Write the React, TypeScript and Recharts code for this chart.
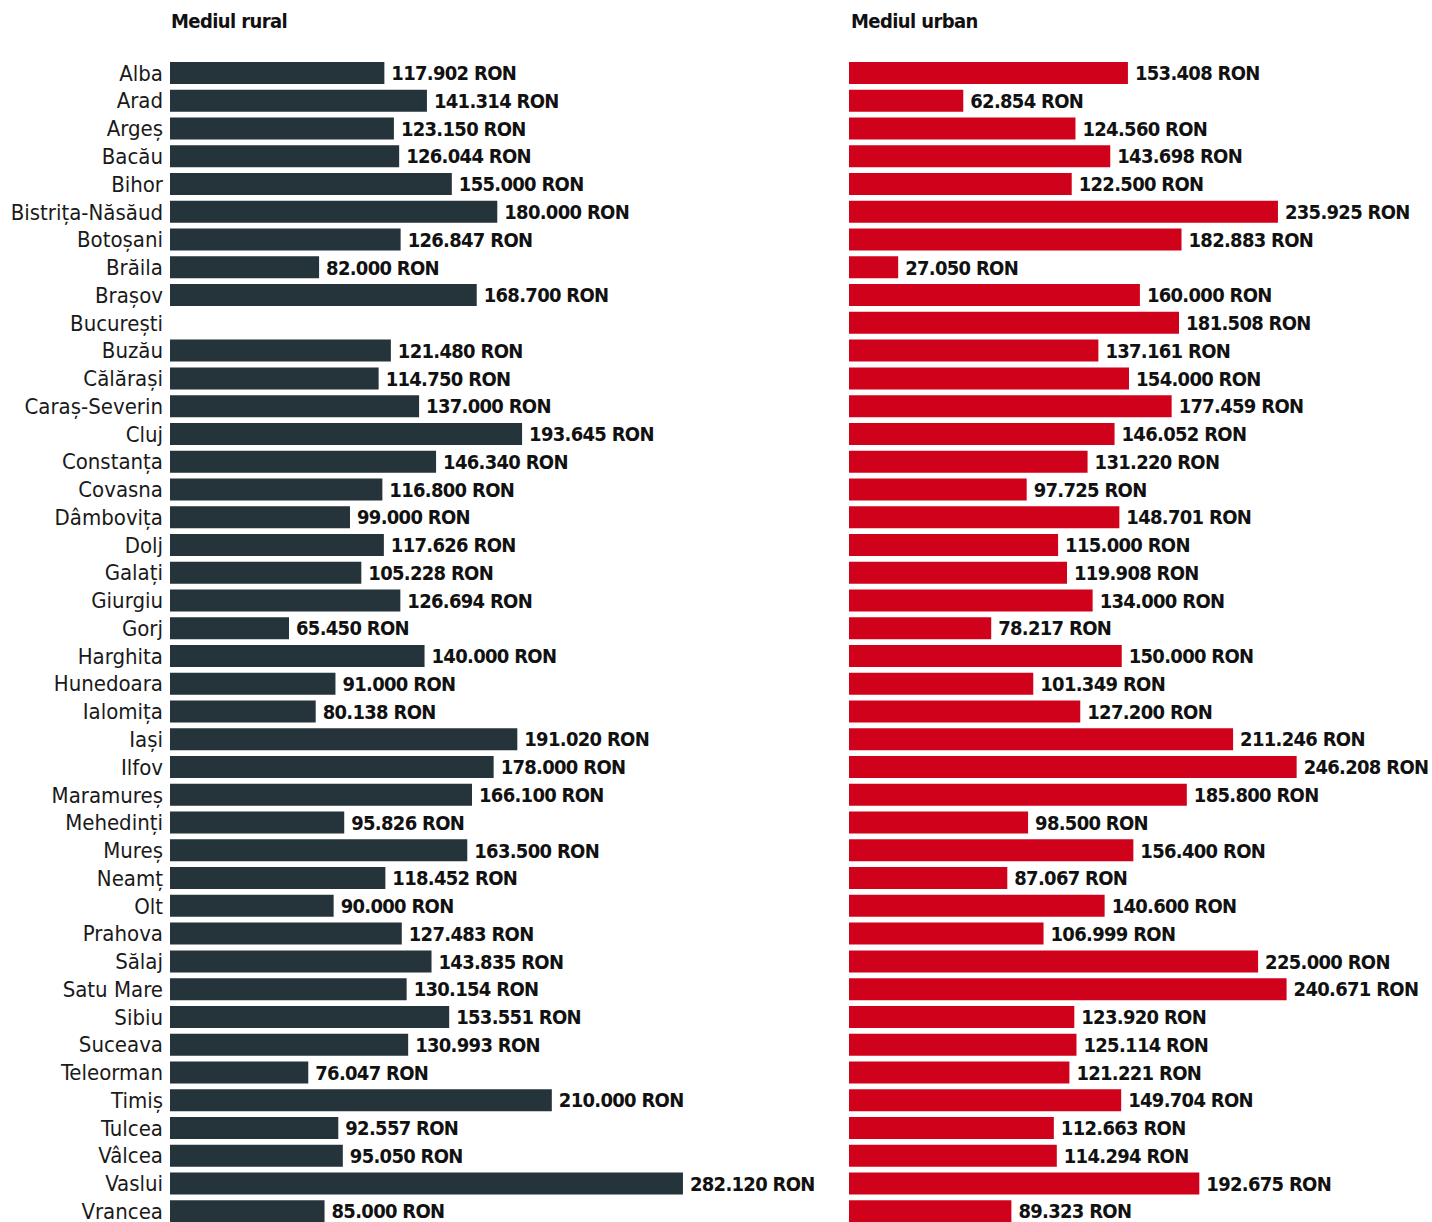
import { BarChart, Bar, XAxis, YAxis, LabelList } from 'recharts';

const counties = [
  'Alba', 'Arad', 'Argeș', 'Bacău', 'Bihor', 'Bistrița-Năsăud', 'Botoșani', 'Brăila', 'Brașov', 'București',
  'Buzău', 'Călărași', 'Caraș-Severin', 'Cluj', 'Constanța', 'Covasna', 'Dâmbovița', 'Dolj', 'Galați', 'Giurgiu',
  'Gorj', 'Harghita', 'Hunedoara', 'Ialomița', 'Iași', 'Ilfov', 'Maramureș', 'Mehedinți', 'Mureș', 'Neamț',
  'Olt', 'Prahova', 'Sălaj', 'Satu Mare', 'Sibiu', 'Suceava', 'Teleorman', 'Timiș', 'Tulcea', 'Vâlcea',
  'Vaslui', 'Vrancea',
];

const rural = [
  117902, 141314, 123150, 126044, 155000, 180000, 126847, 82000, 168700, null,
  121480, 114750, 137000, 193645, 146340, 116800, 99000, 117626, 105228, 126694,
  65450, 140000, 91000, 80138, 191020, 178000, 166100, 95826, 163500, 118452,
  90000, 127483, 143835, 130154, 153551, 130993, 76047, 210000, 92557, 95050,
  282120, 85000,
];

const urban = [
  153408, 62854, 124560, 143698, 122500, 235925, 182883, 27050, 160000, 181508,
  137161, 154000, 177459, 146052, 131220, 97725, 148701, 115000, 119908, 134000,
  78217, 150000, 101349, 127200, 211246, 246208, 185800, 98500, 156400, 87067,
  140600, 106999, 225000, 240671, 123920, 125114, 121221, 149704, 112663, 114294,
  192675, 89323,
];

const titles = ['Mediul rural', 'Mediul urban'];

// both panels share one scale: RON per pixel
const RON_PER_PX = 550;
const FONT = '"DejaVu Sans Condensed", "DejaVu Sans", sans-serif';
const H = 1226;
const MARGIN = { top: 59, right: 0, bottom: 1, left: 0 };

const data = counties.map((c, i) => ({ county: c, rural: rural[i], urban: urban[i] }));

const fmt = (v: number | null) =>
  v == null ? '' : String(v).replace(/\B(?=(\d{3})+(?!\d))/g, '.') + ' RON';

function ValueLabel(props: any) {
  const { x, y, width, height, value } = props;
  if (value == null) return null;
  return (
    <text
      x={x + width + 7}
      y={y + height / 2}
      dy="0.36em"
      fontFamily={FONT}
      fontSize={20}
      fontWeight="bold"
      letterSpacing={-0.7}
      fill="#111"
    >
      {fmt(value)}
    </text>
  );
}

const titleStyle = (left: number): React.CSSProperties => ({
  position: 'absolute',
  left,
  top: 9,
  fontFamily: FONT,
  fontWeight: 'bold',
  fontSize: 20,
  letterSpacing: -0.6,
  lineHeight: '24px',
  color: '#111',
});

export default function App() {
  const leftPlot = 840 - 170;
  const rightPlot = 583;
  return (
    <div style={{ position: 'absolute', left: 0, top: 0, width: 1432, height: 1222, background: '#fff', overflow: 'hidden' }}>
      <div style={titleStyle(171)}>{titles[0]}</div>
      <div style={titleStyle(851)}>{titles[1]}</div>

      <div style={{ position: 'absolute', left: 0, top: 0 }}>
        <BarChart width={840} height={H} data={data} layout="vertical" margin={MARGIN}>
          <XAxis type="number" hide domain={[0, leftPlot * RON_PER_PX]} />
          <YAxis
            type="category"
            dataKey="county"
            width={170}
            interval={0}
            axisLine={false}
            tickLine={false}
            tickSize={5}
            tickMargin={2}
            tick={{ fontSize: 22, fill: '#1a1a1a', fontFamily: FONT }}
          />
          <Bar dataKey="rural" fill="#25333b" barSize={22} isAnimationActive={false}>
            <LabelList dataKey="rural" content={<ValueLabel />} />
          </Bar>
        </BarChart>
      </div>

      <div style={{ position: 'absolute', left: 849, top: 0 }}>
        <BarChart width={rightPlot} height={H} data={data} layout="vertical" margin={MARGIN}>
          <XAxis type="number" hide domain={[0, rightPlot * RON_PER_PX]} />
          <YAxis type="category" dataKey="county" hide />
          <Bar dataKey="urban" fill="#d0021b" barSize={22} isAnimationActive={false}>
            <LabelList dataKey="urban" content={<ValueLabel />} />
          </Bar>
        </BarChart>
      </div>
    </div>
  );
}
